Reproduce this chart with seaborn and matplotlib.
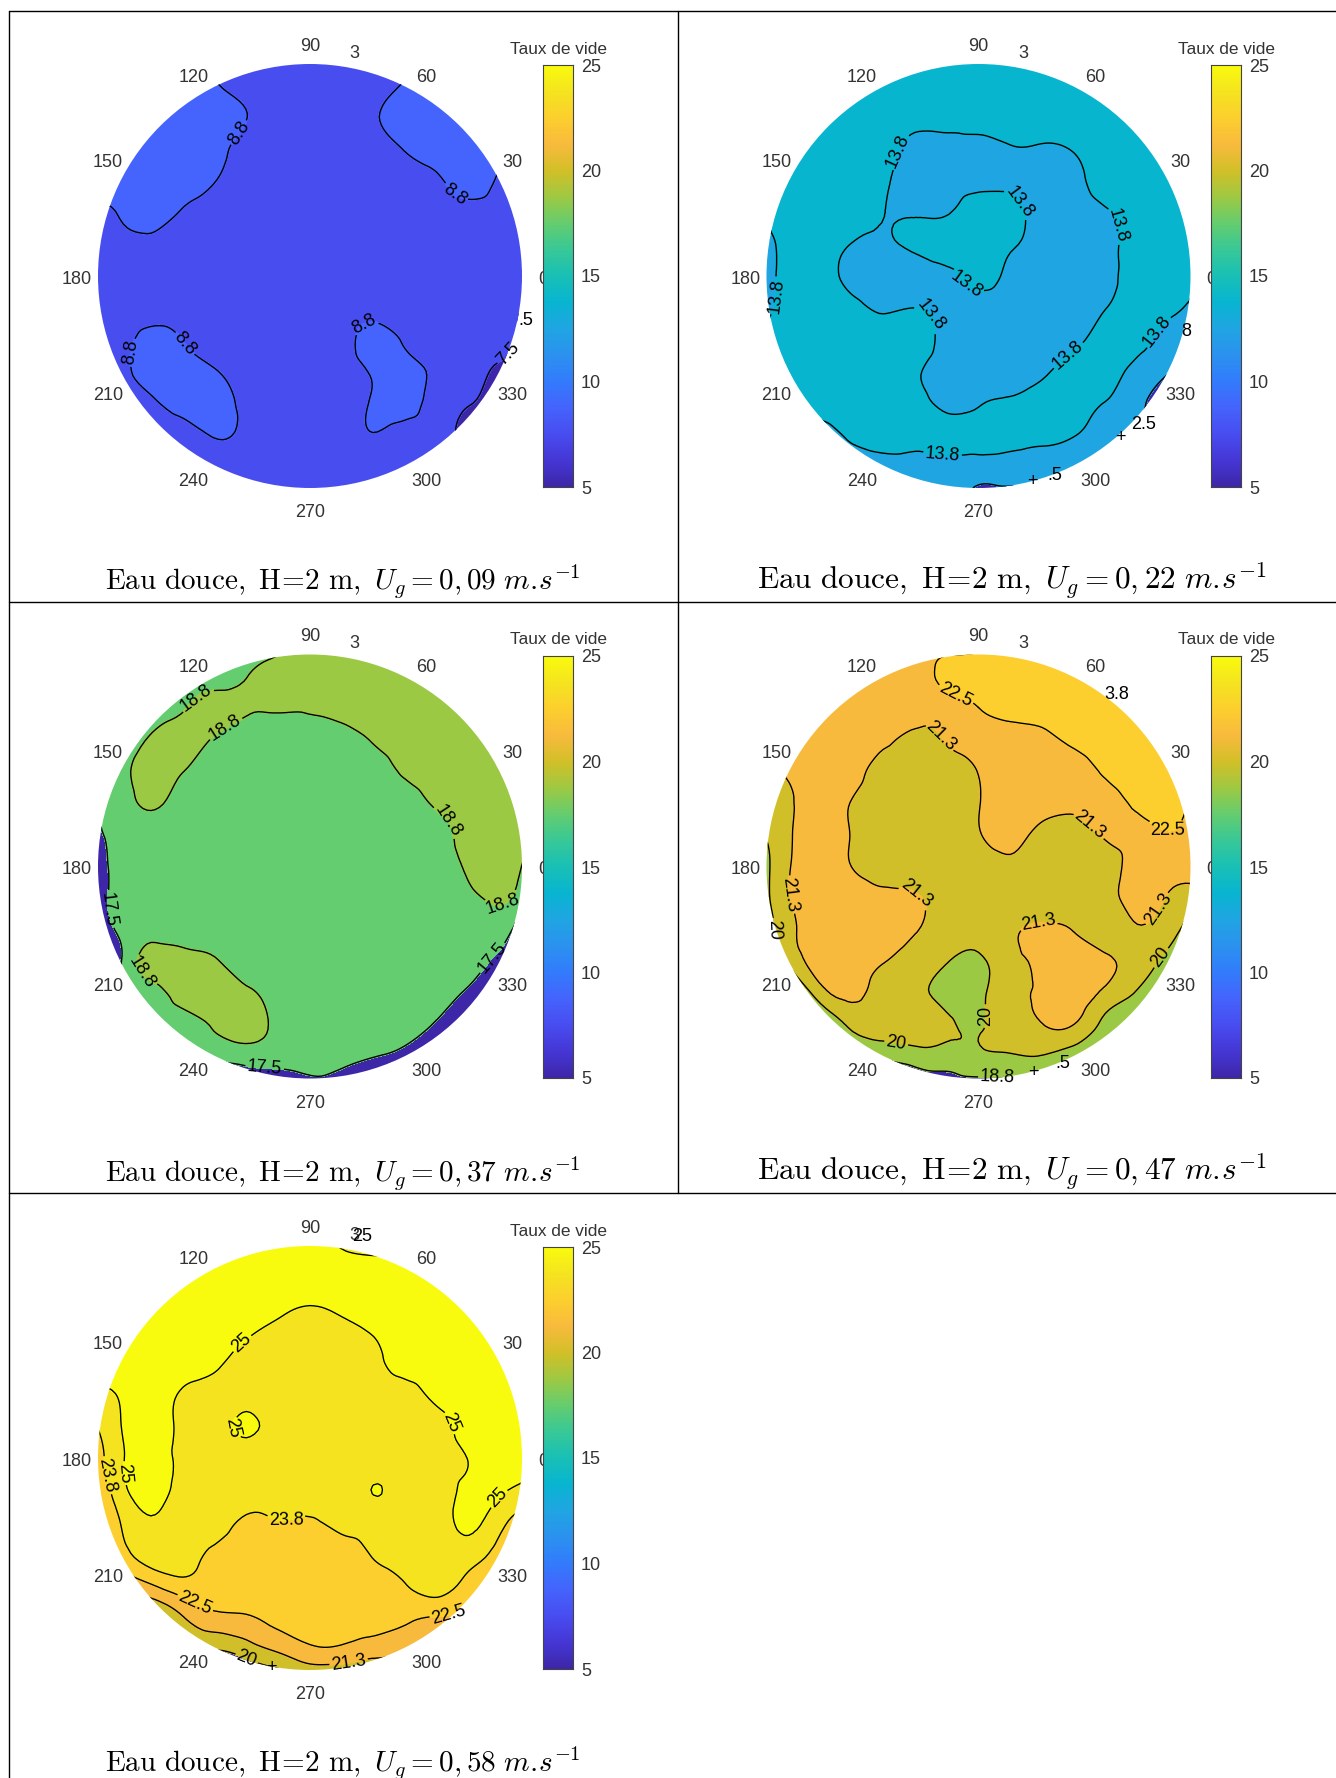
import numpy as np
import seaborn as sns
import matplotlib
matplotlib.use("Agg")
import matplotlib.pyplot as plt
import matplotlib.tri as mtri
from matplotlib.colors import ListedColormap
from matplotlib.lines import Line2D

# -----------------------------
# 1. Data : taux de vide read on a regular grid (rows top to bottom)
# -----------------------------
grid_x = [-1.05, -0.9, -0.75, -0.6, -0.45, -0.3, -0.15, 0, 0.15, 0.3, 0.45, 0.6, 0.75, 0.9, 1.05]
grid_y = [1.05, 0.9, 0.75, 0.6, 0.45, 0.3, 0.15, 0, -0.15, -0.3, -0.45, -0.6, -0.75, -0.9, -1.05]

vide_009 = [
    [8.1, 8.1, 8.1, 8.1, 8.1, 8.1, 8.1, 8.1, 8.1, 8.1, 8.1, 8.1, 8.1, 8.1, 8.1],
    [9.4, 9.4, 9.4, 9.4, 8.9, 8.1, 8.1, 8.1, 8.1, 8.1, 8.9, 9.2, 9.2, 9.2, 9.2],
    [9.4, 9.4, 9.4, 9.4, 9.4, 8.78, 8.1, 8.1, 8.1, 8.55, 9.4, 9.4, 9.4, 9.4, 9.4],
    [9.4, 9.4, 9.4, 9.4, 9.3, 8.1, 8.1, 8.1, 8.1, 8.1, 8.85, 9.4, 9.4, 9.2, 9.2],
    [9.4, 9.4, 9.4, 9.4, 8.8, 8.1, 8.1, 8.1, 8.1, 8.1, 8.1, 8.5, 9.4, 8.5, 8.1],
    [8.1, 8.85, 9.4, 8.6, 8.1, 8.1, 8.1, 8.1, 8.1, 8.1, 8.1, 8.1, 8.3, 8.3, 8.1],
    [8.1, 8.4, 8.4, 8.1, 8.1, 8.1, 8.1, 8.1, 8.1, 8.1, 8.1, 8.1, 8.1, 8.1, 8.1],
    [8.1, 8.1, 8.1, 8.1, 8.1, 8.1, 8.1, 8.1, 8.1, 8.1, 8.1, 8.1, 8.1, 8.1, 8.1],
    [8.1, 8.1, 8.1, 8.1, 8.1, 8.1, 8.1, 8.1, 8.1, 8.1, 8.1, 8.1, 8.1, 8.1, 7.0],
    [8.1, 8.1, 9.3, 8.7, 8.1, 8.1, 8.1, 8.1, 8.1, 9.4, 8.5, 8.1, 8.1, 8.1, 6.5],
    [8.1, 8.3, 9.4, 9.4, 8.85, 8.1, 8.1, 8.1, 8.1, 8.95, 9.4, 8.4, 8.1, 7.1, 6.5],
    [8.1, 8.1, 8.5, 9.4, 9.4, 8.4, 8.1, 8.1, 8.1, 8.95, 9.4, 8.1, 7.6, 6.5, 6.5],
    [8.1, 8.1, 8.1, 8.1, 8.85, 8.4, 8.1, 8.1, 8.1, 8.7, 8.2, 8.1, 7.0, 6.5, 6.5],
    [8.1, 8.1, 8.1, 8.1, 8.1, 8.1, 8.1, 8.1, 8.1, 8.1, 8.1, 8.1, 8.1, 8.1, 8.1],
    [8.1, 8.1, 8.1, 8.1, 8.1, 8.1, 8.1, 8.1, 8.1, 8.1, 8.1, 8.1, 8.1, 8.1, 8.1],
]
vide_022 = [
    [14.4, 14.4, 14.4, 14.4, 14.4, 14.4, 14.4, 14.4, 14.4, 14.4, 14.4, 14.4, 14.4, 14.4, 14.4],
    [14.4, 14.4, 14.4, 14.4, 14.4, 14.4, 14.4, 14.4, 14.4, 14.4, 14.4, 14.4, 14.4, 14.4, 14.4],
    [14.4, 14.4, 14.4, 14.4, 14.4, 14.4, 14.4, 14.4, 14.4, 14.4, 14.4, 14.4, 14.4, 14.4, 14.4],
    [14.4, 14.4, 14.4, 14.4, 14.4, 13.1, 13.1, 13.1, 13.62, 13.6, 13.85, 14.4, 14.4, 14.4, 14.4],
    [14.4, 14.4, 14.4, 14.4, 14.0, 13.1, 13.1, 13.1, 13.3, 13.1, 13.3, 14.4, 14.4, 14.4, 14.4],
    [13.7, 14.4, 14.4, 14.4, 13.78, 13.62, 13.65, 14.6, 14.4, 13.1, 13.1, 13.6, 14.4, 14.4, 14.4],
    [13.1, 14.1, 14.4, 13.72, 13.55, 14.0, 14.4, 14.4, 14.0, 13.1, 13.1, 13.3, 14.4, 14.4, 14.4],
    [13.1, 14.1, 14.4, 13.3, 13.1, 13.1, 13.4, 14.2, 13.4, 13.1, 13.1, 13.3, 14.4, 14.4, 14.4],
    [13.1, 14.1, 14.4, 14.2, 13.55, 13.75, 13.2, 13.1, 13.1, 13.1, 13.1, 13.72, 14.4, 14.1, 13.1],
    [13.7, 14.4, 14.4, 14.4, 14.4, 14.4, 13.35, 13.1, 13.1, 13.1, 13.4, 14.4, 14.25, 13.1, 13.1],
    [14.4, 14.4, 14.4, 14.4, 14.4, 13.95, 13.1, 13.1, 13.1, 13.5, 14.4, 14.4, 13.32, 12.55, 11.5],
    [14.4, 14.4, 14.4, 14.4, 14.4, 14.4, 13.3, 13.59, 14.0, 14.4, 14.4, 13.7, 12.9, 11.5, 11.5],
    [13.1, 13.1, 13.1, 14.0, 14.5, 14.4, 14.4, 14.4, 14.3, 14.1, 13.8, 13.1, 12.3, 11.5, 11.5],
    [13.1, 13.1, 13.1, 13.1, 13.1, 13.1, 13.1, 13.1, 13.1, 13.1, 13.1, 13.1, 12.3, 11.5, 11.5],
    [13.1, 13.1, 13.1, 13.1, 13.1, 13.1, 13.1, 12.32, 12.32, 12.4, 13.1, 13.1, 13.1, 13.1, 13.1],
]
vide_037 = [
    [18.1, 18.1, 18.1, 18.1, 18.1, 18.1, 18.1, 19.4, 19.4, 19.4, 19.4, 19.4, 19.4, 19.4, 19.4],
    [18.1, 18.1, 18.1, 18.1, 18.1, 18.7, 19.4, 19.4, 19.4, 19.4, 19.4, 19.4, 19.4, 19.4, 19.4],
    [18.1, 18.1, 18.1, 18.6, 19.3, 18.95, 18.95, 18.95, 19.4, 19.4, 19.4, 19.4, 19.4, 19.4, 19.4],
    [18.1, 18.1, 18.91, 19.4, 18.6, 18.1, 18.1, 18.1, 18.1, 18.9, 19.4, 19.4, 19.4, 19.4, 19.4],
    [18.1, 18.3, 19.4, 18.8, 18.1, 18.1, 18.1, 18.1, 18.1, 18.1, 19.0, 19.4, 19.4, 19.4, 19.4],
    [18.1, 18.1, 19.0, 18.1, 18.1, 18.1, 18.1, 18.1, 18.1, 18.1, 18.1, 19.0, 19.4, 19.4, 19.4],
    [16.5, 18.1, 18.1, 18.1, 18.1, 18.1, 18.1, 18.1, 18.1, 18.1, 18.1, 18.1, 19.4, 19.4, 19.4],
    [15.6, 18.1, 18.1, 18.1, 18.1, 18.1, 18.1, 18.1, 18.1, 18.1, 18.1, 18.1, 19.0, 19.4, 18.1],
    [15.6, 18.1, 18.1, 18.1, 18.1, 18.1, 18.1, 18.1, 18.1, 18.1, 18.1, 18.1, 18.5, 18.9, 18.1],
    [15.5, 17.7, 18.1, 18.1, 18.1, 18.1, 18.1, 18.1, 18.1, 18.1, 18.1, 18.1, 18.1, 18.1, 15.5],
    [15.0, 17.3, 19.4, 19.4, 18.9, 18.1, 18.1, 18.1, 18.1, 18.1, 18.1, 18.1, 18.1, 16.9, 15.0],
    [18.1, 18.1, 18.1, 19.4, 19.4, 19.0, 18.3, 18.1, 18.1, 18.1, 18.1, 18.1, 17.1, 15.5, 15.0],
    [18.1, 18.1, 18.1, 18.1, 18.9, 19.2, 18.5, 18.1, 18.1, 18.1, 18.1, 17.2, 15.5, 15.0, 15.0],
    [18.1, 18.1, 18.1, 18.1, 17.8, 18.1, 18.1, 18.1, 17.85, 17.5, 16.9, 15.5, 15.0, 15.0, 15.0],
    [18.1, 18.1, 18.1, 18.1, 15.5, 15.5, 15.9, 16.8, 16.5, 15.5, 15.0, 15.0, 15.0, 15.0, 15.0],
]
vide_047 = [
    [21.9, 21.9, 21.9, 21.9, 21.9, 21.9, 21.9, 22.1, 23.1, 23.1, 23.1, 23.1, 23.1, 23.1, 23.1],
    [21.9, 21.9, 21.9, 21.9, 21.9, 21.9, 22.9, 23.1, 23.1, 23.1, 23.1, 23.1, 23.1, 23.1, 23.1],
    [21.9, 21.9, 21.9, 21.9, 21.9, 21.9, 21.9, 22.5, 23.0, 23.1, 23.1, 23.1, 23.1, 23.1, 23.1],
    [21.9, 21.9, 21.9, 21.9, 21.6, 20.9, 21.35, 21.9, 21.9, 22.1, 22.8, 23.1, 23.1, 23.1, 23.1],
    [20.6, 21.4, 21.9, 21.9, 20.6, 20.6, 20.6, 21.3, 21.9, 21.9, 21.9, 22.7, 23.1, 23.1, 23.1],
    [20.6, 21.05, 21.9, 21.2, 20.6, 20.6, 20.6, 21.2, 21.9, 21.9, 21.6, 21.9, 22.8, 23.1, 21.9],
    [19.6, 21.05, 21.9, 21.2, 20.6, 20.6, 20.6, 21.15, 21.7, 20.8, 20.6, 21.4, 21.9, 22.4, 21.9],
    [19.0, 21.1, 21.9, 21.25, 20.7, 20.6, 20.6, 20.6, 20.9, 20.6, 20.6, 20.6, 21.9, 21.9, 21.9],
    [19.0, 21.1, 21.9, 21.9, 21.6, 21.4, 20.6, 20.6, 20.6, 20.6, 20.6, 20.6, 21.9, 21.05, 20.6],
    [19.0, 20.8, 21.9, 21.9, 21.9, 21.35, 20.6, 20.6, 21.1, 21.4, 21.2, 20.6, 21.1, 20.4, 19.4],
    [19.0, 20.2, 21.9, 21.9, 21.3, 20.6, 20.05, 19.75, 20.9, 21.4, 21.9, 21.5, 20.6, 19.7, 19.4],
    [18.5, 18.5, 20.6, 21.55, 20.8, 20.3, 19.6, 19.7, 20.9, 21.4, 21.9, 20.9, 19.9, 19.4, 19.4],
    [19.0, 19.0, 19.0, 20.2, 20.6, 20.5, 20.2, 19.9, 20.6, 21.2, 21.2, 19.6, 19.4, 19.4, 19.4],
    [19.4, 19.4, 19.4, 19.4, 19.0, 19.4, 19.4, 19.75, 19.85, 19.9, 19.4, 19.4, 19.4, 19.4, 19.4],
    [19.4, 19.4, 19.4, 19.4, 17.0, 17.0, 18.0, 17.75, 18.0, 18.4, 19.4, 19.4, 19.4, 19.4, 19.4],
]
vide_058 = [
    [25.7, 25.7, 25.7, 25.7, 25.7, 25.7, 25.7, 25.7, 24.2, 23.0, 24.0, 25.7, 25.7, 25.7, 25.7],
    [25.7, 25.7, 25.7, 25.7, 25.7, 25.7, 25.7, 25.7, 25.7, 25.7, 25.7, 25.7, 25.7, 25.7, 25.7],
    [25.7, 25.7, 25.7, 25.7, 25.7, 25.7, 25.5, 25.2, 25.5, 25.7, 25.7, 25.7, 25.7, 25.7, 25.7],
    [25.7, 25.7, 25.7, 25.7, 25.7, 25.2, 24.7, 24.4, 24.7, 25.1, 25.7, 25.7, 25.7, 25.7, 25.7],
    [25.7, 25.7, 25.7, 25.7, 25.3, 24.4, 24.4, 24.4, 24.4, 24.6, 25.7, 25.7, 25.7, 25.7, 25.7],
    [24.4, 25.1, 25.7, 24.8, 24.4, 24.4, 24.4, 24.4, 24.4, 24.4, 24.4, 25.4, 25.7, 25.7, 25.7],
    [23.2, 24.9, 25.7, 24.6, 24.4, 25.2, 24.4, 24.4, 24.4, 24.4, 24.4, 24.4, 25.7, 25.7, 25.7],
    [22.7, 24.7, 25.7, 24.6, 24.4, 24.4, 24.4, 24.4, 24.4, 24.4, 24.4, 24.4, 25.05, 25.7, 25.7],
    [22.5, 24.4, 25.7, 24.4, 24.4, 24.4, 24.4, 24.4, 24.4, 25.03, 24.4, 24.4, 25.3, 25.2, 24.4],
    [22.5, 23.7, 24.85, 24.4, 24.4, 23.5, 23.7, 23.6, 24.2, 24.4, 24.4, 24.4, 25.3, 24.1, 23.0],
    [22.0, 23.2, 24.4, 24.4, 23.5, 23.1, 23.1, 23.1, 23.1, 23.9, 24.4, 24.4, 24.4, 23.2, 22.0],
    [20.6, 21.5, 22.4, 23.3, 23.1, 23.1, 23.1, 23.1, 23.1, 23.1, 23.7, 24.3, 23.2, 21.9, 20.6],
    [20.6, 20.6, 20.0, 21.2, 22.2, 22.4, 22.9, 23.1, 23.1, 23.1, 22.8, 22.45, 21.9, 20.6, 20.6],
    [20.6, 20.6, 20.0, 20.4, 20.1, 20.7, 21.5, 22.3, 22.3, 21.8, 21.5, 21.0, 20.6, 20.6, 20.6],
    [20.6, 20.6, 20.6, 20.6, 18.4, 18.4, 19.0, 19.8, 19.6, 20.0, 20.6, 20.6, 20.6, 20.6, 20.6],
]

levels_009 = [7.5, 8.75]
levels_022 = [12.5, 13.75]
levels_037 = [17.5, 18.75]
levels_047 = [18.75, 20, 21.25, 22.5]
levels_058 = [20, 21.25, 22.5, 23.75, 25]

# where the contour labels sit on the lines
labels_009 = [(-.34, .68), (.695, .40), (-.85, -.36), (-.605, -.33), (.276, -.277), (.91, -.34)]
labels_022 = [(-.37, .585), (.19, .347), (.61, .228), (-.95, -.094), (-.21, -.176), (-.08, -.066),
              (.42, -.37), (-.17, -.842), (.86, -.277)]
labels_037 = [(-.52, .78), (-.40, .655), (.62, .19), (.89, -.14), (-.76, -.475),
              (-.94, -.2), (.86, -.43), (-.215, -.965)]
labels_047 = [(-.12, .78), (.88, .13), (-.2, .6), (.52, .19), (-.32, -.17), (-.87, -.13), (.28, -.25), (.86, -.21),
              (-.95, -.3), (.86, -.43), (-.39, -.84), (0, -.71), (.09, -.98)]
labels_058 = [(-.31, .53), (.64, .157), (-.33, .15), (-.83, -.07), (.9, -.2), (-.95, -.08), (-.11, -.31),
              (-.55, -.70), (.65, -.71), (.18, -.95), (-.3, -.95)]

# bits of labels left over outside the disc in the original
extra_009 = [(1.02, -.21, ".5")]
extra_022 = [(.98, -.262, "8"), (.78, -.70, "2.5"), (.67, -.76, "+"), (.36, -.94, ".5"), (.256, -.97, "+")]
extra_037 = []
extra_047 = [(.65, .81, "3.8"), (.4, -.93, ".5"), (.26, -.97, "+")]
extra_058 = [(.245, 1.045, "25"), (-.18, -.99, "+")]

angles = [0, 30, 60, 90, 120, 150, 180, 210, 240, 270, 300, 330]
cbar_ticks = [5, 10, 15, 20, 25]
level_names = {7.5: "7.5", 8.75: "8.8", 12.5: "12.5", 13.75: "13.8", 17.5: "17.5", 18.75: "18.8",
               20: "20", 21.25: "21.3", 22.5: "22.5", 23.75: "23.8", 25: "25"}

parula_keys = [(.2422, .1504, .6603), (.2706, .2147, .8364), (.2813, .3006, .9414), (.2699, .3892, .9906),
               (.1963, .4847, .9892), (.1687, .5703, .9359), (.1248, .6459, .8883), (.0297, .7082, .8163),
               (.0964, .7500, .7120), (.2161, .7843, .5923), (.3909, .8029, .4354), (.6174, .7876, .2612),
               (.8203, .7498, .1535), (.9728, .7298, .2394), (.9892, .8086, .1817), (.9598, .8914, .1218),
               (.9763, .9831, .0538)]

W, H = 1336, 1778
R = 212

panels = [
    dict(z=vide_009, lv=levels_009, lab=labels_009, extra=extra_009, cx=310, cy=276, bar=(543, 65, 487),
         title="0,09", tx=343, ty=589.5, fs=21.0),
    dict(z=vide_022, lv=levels_022, lab=labels_022, extra=extra_022, cx=978.5, cy=276, bar=(1211, 65, 487),
         title="0,22", tx=1012, ty=589.5, fs=22.5),
    dict(z=vide_037, lv=levels_037, lab=labels_037, extra=extra_037, cx=310, cy=866.5, bar=(543, 656, 1078),
         title="0,37", tx=343, ty=1181, fs=21.0),
    dict(z=vide_047, lv=levels_047, lab=labels_047, extra=extra_047, cx=978.5, cy=866.5, bar=(1211, 656, 1078),
         title="0,47", tx=1012, ty=1180, fs=22.5),
    dict(z=vide_058, lv=levels_058, lab=labels_058, extra=extra_058, cx=310, cy=1458, bar=(543, 1247, 1669),
         title="0,58", tx=343, ty=1771, fs=21.0),
]

# -----------------------------
# 2. Style
# -----------------------------
sns.set_theme(style="white")
plt.rcParams["font.family"] = ["Liberation Sans", "DejaVu Sans"]
plt.rcParams["mathtext.fontset"] = "cm"

parula_list = sns.blend_palette(parula_keys, n_colors=256)
parula = ListedColormap(parula_list)
TXT = "#333333"


def level_color(v):
    return parula_list[int(round((v - 5) / 20 * 255))]


fig = plt.figure(figsize=(W / 100, H / 100), dpi=100)

# table lines
for y in [11, 602, 1193]:
    fig.add_artist(Line2D([9 / W, 1], [1 - y / H, 1 - y / H], color="black", lw=1))
fig.add_artist(Line2D([9 / W, 9 / W], [1 - 11 / H, 0], color="black", lw=1))
fig.add_artist(Line2D([678 / W, 678 / W], [1 - 11 / H, 1 - 1193 / H], color="black", lw=1))

xx, yy = np.meshgrid(grid_x, grid_y)
tri = mtri.Triangulation(xx.ravel(), yy.ravel())
refiner = mtri.UniformTriRefiner(tri)

# -----------------------------
# 3. Panels
# -----------------------------
for p in panels:
    half = 1.25 * R
    ax = fig.add_axes([(p["cx"] - half) / W, 1 - (p["cy"] + half) / H, 2 * half / W, 2 * half / H])
    ax.set_xlim(-1.25, 1.25)
    ax.set_ylim(-1.25, 1.25)
    ax.axis("off")
    ax.set_zorder(1)

    tri2, z2 = refiner.refine_field(np.array(p["z"], dtype=float).ravel(), subdiv=3)
    bounds = [0] + p["lv"] + [40]
    colors = [level_color(5)] + [level_color(v) for v in p["lv"]]
    filled = ax.tricontourf(tri2, z2, levels=bounds, colors=colors)
    filled.set_edgecolor("face")
    lines = ax.tricontour(tri2, z2, levels=p["lv"], colors="black", linewidths=1.0)

    lines.clabel(manual=p["lab"], fmt=level_names, inline=True, inline_spacing=2, fontsize=13)

    disc = plt.Circle((0, 0), 1, transform=ax.transData)
    filled.set_clip_path(disc)
    lines.set_clip_path(disc)

    for a in angles:
        r = 1.10
        ax.text(r * np.cos(np.radians(a)), r * np.sin(np.radians(a)) - .016, str(a), ha="center", va="center",
                fontsize=13, color=TXT)
    ax.text(.21, 1.05, "3", ha="center", va="center", fontsize=13, color=TXT)
    for x, y, s in p["extra"]:
        ax.text(x, y, s, ha="center", va="center", fontsize=13, color="black")

    # colour bar
    left, top, bottom = p["bar"]
    cax = fig.add_axes([left / W, 1 - bottom / H, 29.5 / W, (bottom - top) / H])
    cax.set_zorder(2)
    gradient = np.linspace(25, 5, 256).reshape(-1, 1)
    sns.heatmap(gradient, ax=cax, cmap=parula, vmin=5, vmax=25, cbar=False, xticklabels=False, yticklabels=False)
    cax.set_yticks([(25 - v) / 20 * 256 for v in cbar_ticks])
    cax.set_yticklabels([str(v) for v in cbar_ticks], rotation=0, fontsize=13, color=TXT)
    cax.yaxis.tick_right()
    cax.tick_params(axis="y", direction="in", length=3, width=.7, color="#444444", right=True, pad=6)
    for s in cax.spines.values():
        s.set_visible(True)
        s.set_color("#444444")
        s.set_linewidth(.8)
    fig.text((left + 15) / W, 1 - (top - 16) / H, "Taux de vide", ha="center", va="center", fontsize=12.4, color=TXT)

    title = (r"$\mathrm{Eau\ douce,\ H}\!=\!\mathrm{2\ m,}\ U_g=" + p["title"] + r"\ m.\!s^{-1}$")
    fig.text(p["tx"] / W, 1 - p["ty"] / H, title, ha="center", va="baseline", fontsize=p["fs"], color="black")

fig.savefig("out.png", dpi=100)
